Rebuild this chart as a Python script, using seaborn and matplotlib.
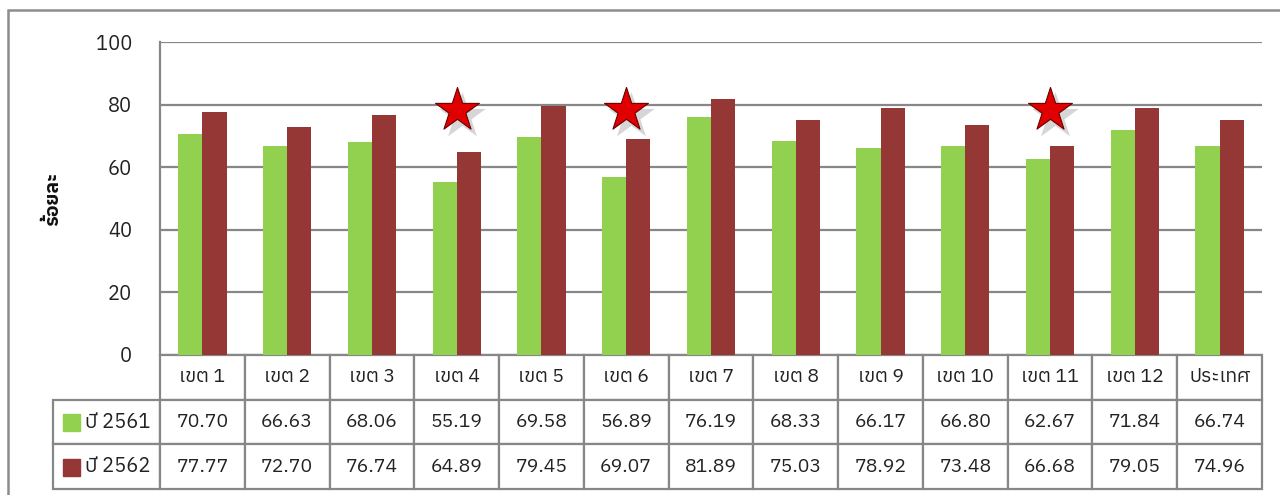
import matplotlib
matplotlib.use("Agg")
import matplotlib.pyplot as plt
import seaborn as sns
import pandas as pd
import numpy as np
from matplotlib import font_manager, ft2font
from matplotlib.patches import Rectangle

# ---------------- data ----------------
categories = ['เขต 1', 'เขต 2', 'เขต 3', 'เขต 4', 'เขต 5', 'เขต 6', 'เขต 7',
              'เขต 8', 'เขต 9', 'เขต 10', 'เขต 11', 'เขต 12', 'ประเทศ']
series_names = ['ปี 2561', 'ปี 2562']
values_2561 = [70.70, 66.63, 68.06, 55.19, 69.58, 56.89, 76.19,
               68.33, 66.17, 66.80, 62.67, 71.84, 66.74]
values_2562 = [77.77, 72.70, 76.74, 64.89, 79.45, 69.07, 81.89,
               75.03, 78.92, 73.48, 66.68, 79.05, 74.96]
star_categories = ['เขต 4', 'เขต 6', 'เขต 11']
star_level = 78.3
y_ticks = [0, 20, 40, 60, 80, 100]
y_label = 'ร้อยละ'

# ---------------- fonts ----------------
def has_thai(path):
    try:
        f = ft2font.FT2Font(path)
        return 0x0E02 in f.get_charmap()
    except Exception:
        return False

thai_fonts = []
for fe in font_manager.fontManager.ttflist:
    if fe.name not in thai_fonts and has_thai(fe.fname):
        thai_fonts.append(fe.name)
thai_fonts.sort(key=lambda n: (0 if 'Thai' in n else 1, n))

sns.set_theme(style="white")
fam = thai_fonts[:1] + ['Noto Sans', 'DejaVu Sans']
plt.rcParams['font.family'] = fam

green = '#92D050'
red = '#953735'
grid_c = '#878787'

df = pd.DataFrame({
    'cat': categories * 2,
    'year': [series_names[0]] * len(categories) + [series_names[1]] * len(categories),
    'val': values_2561 + values_2562,
})

fig = plt.figure(figsize=(12.8, 4.95), dpi=100)
W, H = 1280, 495
x0, x1, ytop, ybot = 160, 1262, 42, 355
ax = fig.add_axes([x0 / W, 1 - ybot / H, (x1 - x0) / W, (ybot - ytop) / H])

sns.barplot(data=df, x='cat', y='val', hue='year', order=categories,
            hue_order=series_names, palette=[green, red], saturation=1,
            width=0.57, gap=0, ax=ax, legend=False, edgecolor='none',
            linewidth=0, zorder=3)

ax.set_ylim(0, 100)
ax.set_xlim(-0.5, len(categories) - 0.5)
ax.set_yticks(y_ticks)
ax.yaxis.grid(True, color=grid_c, linewidth=1.6, zorder=0)
ax.xaxis.grid(False)
for s in ['top', 'right', 'bottom']:
    ax.spines[s].set_visible(False)
ax.spines['left'].set_color(grid_c)
ax.spines['left'].set_linewidth(1.6)
ax.tick_params(axis='y', length=0, pad=20, labelsize=14.5, colors='#222222')
ax.tick_params(axis='x', length=0, labelbottom=False)
ax.set_xlabel('')
ax.set_ylabel(y_label, fontsize=14, fontweight='bold', color='#111111')
ax.yaxis.set_label_coords((62 - x0) / (x1 - x0), 0.5)

# stars
sx = [categories.index(c) for c in star_categories]
sy = [star_level] * len(sx)
ax.scatter([x + 0.06 for x in sx], [y - 1.8 for y in sy], marker='*', s=1250,
           color='#000000', alpha=0.16, linewidths=0, zorder=4, clip_on=False)
ax.scatter(sx, sy, marker='*', s=1100, color='#E00000', edgecolors='#6a0000',
           linewidths=0.8, zorder=5, clip_on=False)

# ---------------- data table ----------------
axw = x1 - x0
axh = ybot - ytop
tl = 53
row_edges = [355, 400, 445, 489]
ncol = len(categories)
col_w = 1.0 / ncol
label_w = (x0 - tl) / axw

cell_text = [[''] + categories,
             [''] + [f'{v:.2f}' for v in values_2561],
             [''] + [f'{v:.2f}' for v in values_2562]]
tb_bottom = -(row_edges[-1] - ybot) / axh
tb_height = (row_edges[-1] - ybot) / axh
tbl = ax.table(cellText=cell_text, cellLoc='center',
               colWidths=[label_w] + [col_w] * ncol,
               bbox=[-label_w, tb_bottom, 1 + label_w, tb_height])
tbl.auto_set_font_size(False)
tbl.set_fontsize(14)
for (r, c), cell in tbl.get_celld().items():
    cell.set_edgecolor(grid_c)
    cell.set_linewidth(1.6)
    cell.set_facecolor('white')
    cell.get_text().set_color('#222222')
    if r == 0 and c == 0:
        cell.visible_edges = ''
for i, (name, col) in enumerate(zip(series_names, [green, red])):
    rb = row_edges[i + 1]
    rt = row_edges[i + 2]
    yc = -((rb + rt) / 2 - ybot) / axh
    sq = 17
    ax.add_patch(Rectangle(((63 - x0) / axw, yc - (sq / 2) / axh), sq / axw, sq / axh,
                           transform=ax.transAxes, color=col, clip_on=False, zorder=6))
    ax.text((85 - x0) / axw, yc, name, transform=ax.transAxes, ha='left', va='center',
            fontsize=14.5, color='#222222', zorder=6)

# outer frame
fig.add_artist(Rectangle((8 / W, -0.2), 1.2, 1.2 - 10 / H, transform=fig.transFigure,
                         fill=False, edgecolor='#8c8c8c', linewidth=1.8))

fig.savefig('out.png', dpi=100)
